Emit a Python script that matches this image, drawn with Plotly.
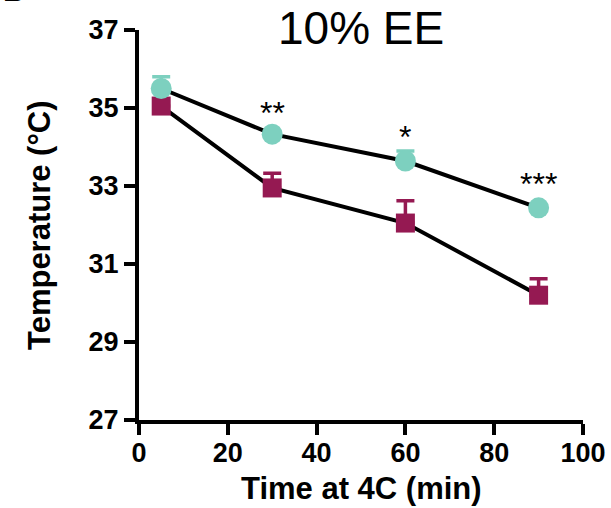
import plotly.graph_objects as go

time = [5, 30, 60, 90]
teal_y = [35.5, 34.33, 33.64, 32.44]
teal_err = [0.3, 0.0, 0.26, 0.0]
mag_y = [35.05, 32.95, 32.05, 30.2]
mag_err = [0.0, 0.38, 0.57, 0.42]
sig_x = [30, 60, 90]
sig_y = [34.87, 34.26, 33.05]
sig_labels = ["**", "*", "***"]

TEAL = "#7dd0bf"
MAG = "#951952"
FONT = "Liberation Sans, Arial, sans-serif"

fig = go.Figure()
fig.add_trace(go.Scatter(
    x=time, y=mag_y, mode="lines+markers",
    line=dict(color="black", width=4),
    marker=dict(symbol="square", size=19, color=MAG),
    error_y=dict(type="data", array=mag_err, arrayminus=[0]*4, symmetric=False,
                 color=MAG, thickness=3.5, width=9),
    showlegend=False))
fig.add_trace(go.Scatter(
    x=time, y=teal_y, mode="lines+markers",
    line=dict(color="black", width=4),
    marker=dict(symbol="circle", size=21, color=TEAL),
    error_y=dict(type="data", array=teal_err, arrayminus=[0]*4, symmetric=False,
                 color=TEAL, thickness=3.5, width=9),
    showlegend=False))

for sx, sy, lab in zip(sig_x, sig_y, sig_labels):
    fig.add_annotation(x=sx, y=sy, text=lab, showarrow=False,
                       font=dict(family=FONT, size=32, color="black"),
                       yanchor="middle")

fig.add_annotation(x=0.5, y=1.0, xref="paper", yref="paper", text="10% EE",
                   showarrow=False, yanchor="bottom", yshift=-26,
                   font=dict(family=FONT, size=46, color="black"))
fig.add_annotation(x=(14 - 139) / 444, y=1 + 21 / 390, xref="paper", yref="paper",
                   text="<b>B</b>", showarrow=False, xanchor="center", yanchor="bottom",
                   font=dict(family=FONT, size=30, color="black"))
# axis titles
fig.add_annotation(x=0.5, y=0, xref="paper", yref="paper", text="<b>Time at 4C (min)</b>",
                   showarrow=False, xanchor="center", yanchor="middle", yshift=-68,
                   font=dict(family=FONT, size=31, color="black"))
fig.add_annotation(x=0, y=0.5, xref="paper", yref="paper", text="<b>Temperature (°C)</b>",
                   showarrow=False, xanchor="center", yanchor="middle", xshift=-100,
                   textangle=-90,
                   font=dict(family=FONT, size=31, color="black"))

fig.update_layout(
    width=611, height=508,
    margin=dict(l=139, r=28, t=30, b=88, autoexpand=False),
    plot_bgcolor="white", paper_bgcolor="white",
    font=dict(family=FONT, color="black"),
    xaxis=dict(range=[0, 100], tickvals=[0, 20, 40, 60, 80, 100],
               automargin=False,
               showgrid=False, zeroline=False, showline=True,
               linecolor="black", linewidth=4,
               ticks="outside", ticklen=11, tickwidth=4, tickcolor="black",
               ticklabelstandoff=-5,
               tickfont=dict(family=FONT, size=27, color="black", weight="bold")),
    yaxis=dict(range=[27, 37], tickvals=[27, 29, 31, 33, 35, 37],
               automargin=False,
               showgrid=False, zeroline=False, showline=True,
               linecolor="black", linewidth=4,
               ticks="outside", ticklen=11, tickwidth=4, tickcolor="black",
               tickfont=dict(family=FONT, size=27, color="black", weight="bold")),
)

fig.write_html("out.html")
